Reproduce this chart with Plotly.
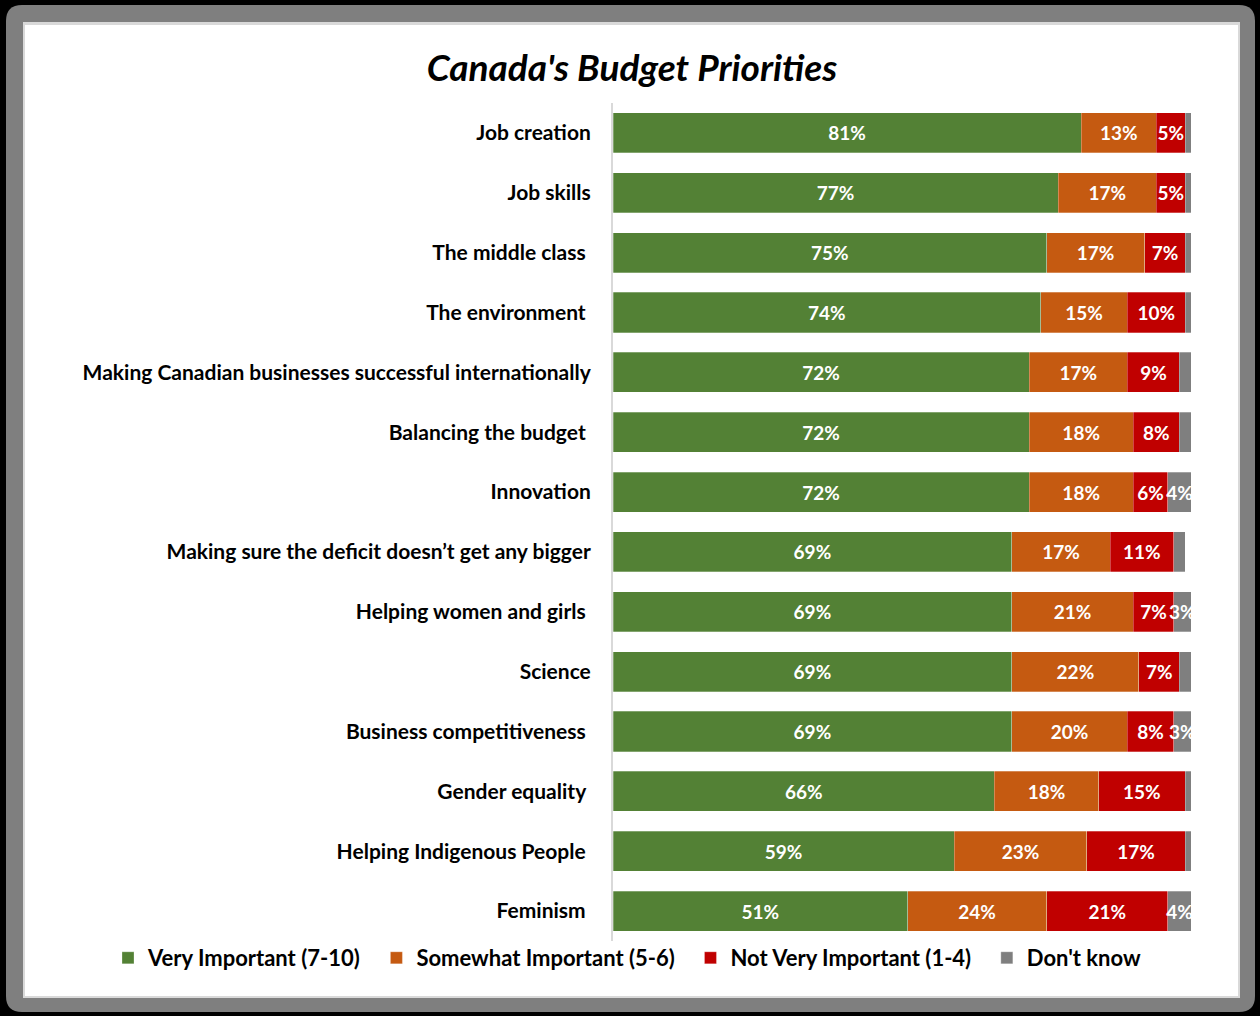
import plotly.graph_objects as go

# Survey data: share of respondents rating each budget priority
categories = [
    "Job creation",
    "Job skills",
    "The middle class",
    "The environment",
    "Making Canadian businesses successful internationally",
    "Balancing the budget",
    "Innovation",
    "Making sure the deficit doesn\u2019t get any bigger",
    "Helping women and girls",
    "Science",
    "Business competitiveness",
    "Gender equality",
    "Helping Indigenous People",
    "Feminism",
]
very_important = [81, 77, 75, 74, 72, 72, 72, 69, 69, 69, 69, 66, 59, 51]
somewhat_important = [13, 17, 17, 15, 17, 18, 18, 17, 21, 22, 20, 18, 23, 24]
not_very_important = [5, 5, 7, 10, 9, 8, 6, 11, 7, 7, 8, 15, 17, 21]
dont_know = [1, 1, 1, 1, 2, 2, 4, 2, 3, 2, 3, 1, 1, 4]

# Axis labels, some padded with a trailing space as in the source deck
padded = {"The middle class", "The environment", "Balancing the budget",
          "Helping women and girls", "Business competitiveness",
          "Gender equality", "Helping Indigenous People", "Feminism"}
tick_labels = [c + "\u00a0" if c in padded else c for c in categories]

series_names = ["Very Important (7-10)", "Somewhat Important (5-6)",
                "Not Very Important (1-4)", "Don't know"]
series_values = [very_important, somewhat_important, not_very_important, dont_know]
series_colors = ["#538135", "#C55A11", "#C00000", "#7F7F7F"]

FONT = "Lato"

fig = go.Figure()
for i, (name, vals, color) in enumerate(zip(series_names, series_values, series_colors)):
    # widen the gap after each legend entry except the last
    legend_name = name + ("\u00a0\u00a0" if i < len(series_names) - 1 else "")
    fig.add_trace(go.Bar(
        y=categories,
        x=vals,
        name=legend_name,
        orientation="h",
        marker=dict(color=color, line=dict(color="rgba(255,255,255,0.35)", width=0.8)),
        text=[f"{v}%" if v >= 3 else "" for v in vals],
        textposition="inside",
        insidetextanchor="middle",
        textangle=0,
        constraintext="none",
        textfont=dict(family=FONT, size=19, color="white", weight="bold"),
        cliponaxis=False,
        hoverinfo="skip",
    ))

# Page geometry (pixels) used to place the frame in paper coordinates
W, H = 1260, 1016
L, R, T, B = 613, 1191, 103, 941


def px(x):
    return (x - L) / (R - L)


def py(y):
    return (B - y) / (B - T)


def rounded_rect(x0, y0, x1, y1, r):
    rx, ry = r / (R - L), r / (B - T)
    X0, X1, Y0, Y1 = px(x0), px(x1), py(y0), py(y1)
    return (f"M {X0 + rx},{Y0} L {X1 - rx},{Y0} Q {X1},{Y0} {X1},{Y0 - ry} "
            f"L {X1},{Y1 + ry} Q {X1},{Y1} {X1 - rx},{Y1} "
            f"L {X0 + rx},{Y1} Q {X0},{Y1} {X0},{Y1 + ry} "
            f"L {X0},{Y0 - ry} Q {X0},{Y0} {X0 + rx},{Y0} Z")


shapes = [
    dict(type="path", xref="paper", yref="paper", layer="below",
         path=rounded_rect(6, 5, 1255, 1012, 16),
         fillcolor="#7F7F7F", line=dict(width=0)),
    dict(type="rect", xref="paper", yref="paper", layer="below",
         x0=px(23), x1=px(1240), y0=py(22), y1=py(998),
         fillcolor="#D9D9D9", line=dict(width=0)),
    dict(type="rect", xref="paper", yref="paper", layer="below",
         x0=px(25), x1=px(1238), y0=py(25), y1=py(996),
         fillcolor="white", line=dict(width=0)),
]

fig.update_layout(
    width=W,
    height=H,
    barmode="stack",
    bargap=0.33,
    paper_bgcolor="black",
    plot_bgcolor="rgba(0,0,0,0)",
    margin=dict(l=L, r=W - R, t=T, b=H - B, pad=0, autoexpand=False),
    shapes=shapes,
    title=dict(
        text="<i>Canada's Budget Priorities</i>",
        x=632 / W, xanchor="center", xref="container",
        y=1 - 68 / H, yanchor="middle", yref="container",
        font=dict(family=FONT, size=37, color="black", weight="bold"),
    ),
    xaxis=dict(range=[0, 100], visible=False, fixedrange=True),
    yaxis=dict(
        categoryorder="array",
        categoryarray=categories,
        tickvals=categories,
        ticktext=tick_labels,
        autorange="reversed",
        showline=True,
        linecolor="#D9D9D9",
        linewidth=2,
        showgrid=False,
        ticks="",
        ticklabelstandoff=16,
        tickfont=dict(family=FONT, size=21, color="black", weight="bold"),
    ),
    legend=dict(
        orientation="h",
        x=px(108), xanchor="left",
        y=py(958), yanchor="middle",
        font=dict(family=FONT, size=22, color="black", weight="bold"),
        bgcolor="rgba(0,0,0,0)",
        itemclick=False,
        itemdoubleclick=False,
        traceorder="normal",
        itemwidth=30,
        tracegroupgap=0,
    ),
    showlegend=True,
)

fig.write_html("out.html")
